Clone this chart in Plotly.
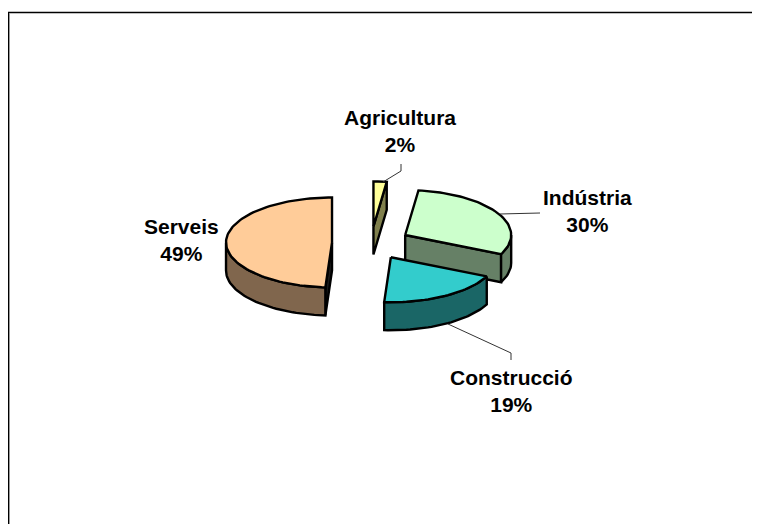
import math
import plotly.graph_objects as go

categories = ["Agricultura", "Indústria", "Construcció", "Serveis"]
values = [2, 30, 19, 49]
top_colors = ["#FFFF99", "#CCFFCC", "#33CCCC", "#FFCC99"]
side_colors = ["#80804D", "#668066", "#1A6666", "#80664D"]
draw_order = ["Agricultura", "Serveis", "Indústria", "Construcció"]

CX, CY, RX, RY, DEPTH, EXPLODE = 371, 243, 106, 45, 28, 39
LINE = 2.4


def pt(c, deg, dz=0, r=1.0):
    a = math.radians(deg)
    return (c[0] + r * RX * math.sin(a), c[1] - r * RY * math.cos(a) + dz)


def arc(c, a0, a1, dz=0, step=2.0):
    n = max(2, int(abs(a1 - a0) / step) + 1)
    return [pt(c, a0 + (a1 - a0) * i / (n - 1), dz) for i in range(n)]


def poly(points, fill):
    xs = [p[0] for p in points] + [points[0][0]]
    ys = [p[1] for p in points] + [points[0][1]]
    return go.Scatter(x=xs, y=ys, mode="lines", fill="toself", fillcolor=fill,
                      line=dict(color="black", width=LINE, shape="linear"),
                      hoverinfo="skip", showlegend=False)


total = sum(values)
spans = {}
start = 0.0
for name, v in zip(categories, values):
    spans[name] = (start, start + 360.0 * v / total)
    start = spans[name][1]

fig = go.Figure()
for name in draw_order:
    i = categories.index(name)
    a0, a1 = spans[name]
    mid = math.radians((a0 + a1) / 2)
    c = (CX + EXPLODE * math.sin(mid), CY - EXPLODE * RY / RX * math.cos(mid))
    top, side = top_colors[i], side_colors[i]
    cdown = (c[0], c[1] + DEPTH)
    if a1 < 180:
        fig.add_trace(poly([c, pt(c, a1), pt(c, a1, DEPTH), cdown], side))
    if a0 > 180:
        fig.add_trace(poly([c, pt(c, a0), pt(c, a0, DEPTH), cdown], "#1A1A1A"))
    lo, hi = max(a0, 90), min(a1, 270)
    if lo < hi:
        fig.add_trace(poly(arc(c, lo, hi) + arc(c, hi, lo, DEPTH), side))
    fig.add_trace(poly([c] + arc(c, a0, a1), top))

labels = [
    ("Agricultura", "2%", 400, 131),
    ("Indústria", "30%", 587, 211),
    ("Construcció", "19%", 511, 391),
    ("Serveis", "49%", 181, 240),
]
for name, pct, x, y in labels:
    fig.add_annotation(x=x, y=y, xref="x", yref="y", text=f"<b>{name}<br>{pct}</b>", showarrow=False,
                       font=dict(family="Liberation Sans", size=21, color="black"),
                       align="center", xanchor="center", yanchor="middle")

leaders = [
    [(383, 182), (401, 171), (401, 164)],
    [(500, 214), (540, 213)],
    [(448, 324), (511, 353), (511, 360)],
]
for seg in leaders:
    fig.add_trace(go.Scatter(x=[p[0] for p in seg], y=[p[1] for p in seg], mode="lines",
                             line=dict(color="#333333", width=1), hoverinfo="skip", showlegend=False))

fig.add_shape(type="line", x0=8, x1=760, y0=12.5, y1=12.5, xref="x", yref="y", line=dict(color="black", width=1.3))
fig.add_shape(type="line", x0=8.5, x1=8.5, y0=12, y1=524, xref="x", yref="y", line=dict(color="black", width=1))
fig.add_shape(type="line", x0=9.5, x1=9.5, y0=13, y1=524, xref="x", yref="y", line=dict(color="#999999", width=1))

fig.update_layout(
    width=752, height=516, margin=dict(l=0, r=0, t=0, b=0),
    paper_bgcolor="white", plot_bgcolor="white", showlegend=False,
    xaxis=dict(range=[8, 760], visible=False, fixedrange=True),
    yaxis=dict(range=[524, 8], visible=False, fixedrange=True),
)
fig.write_html("out.html", config=dict(displayModeBar=False))
